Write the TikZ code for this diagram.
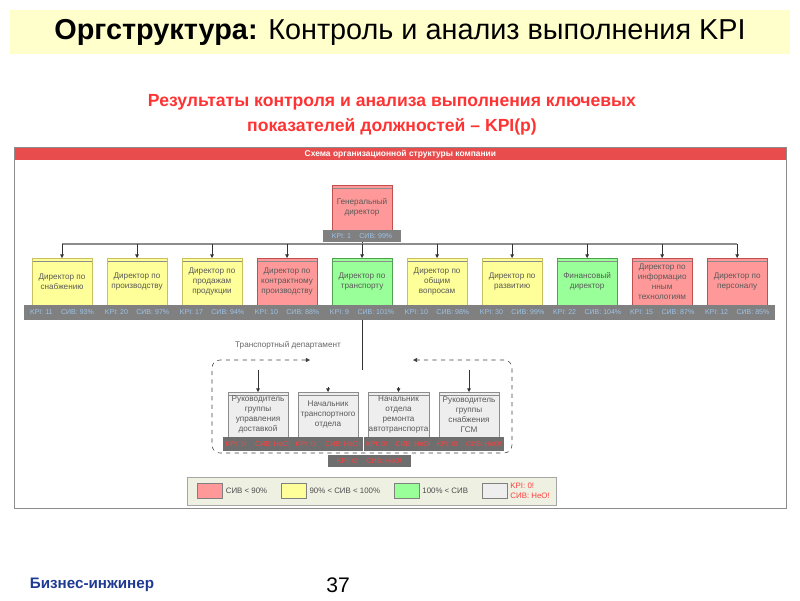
\documentclass[tikz,border=0pt]{standalone}
\usepackage{fontspec}
\setmainfont{Liberation Sans}
\usepackage{xcolor}
\usetikzlibrary{positioning,calc,arrows.meta}

\definecolor{titleband}{HTML}{FFFFCC}
\definecolor{subred}{HTML}{FF3333}
\definecolor{headred}{HTML}{E84C4C}
\definecolor{lowfill}{HTML}{FF9999}
\definecolor{lowdraw}{HTML}{C05050}
\definecolor{midfill}{HTML}{FFFF99}
\definecolor{middraw}{HTML}{C8C060}
\definecolor{highfill}{HTML}{99FF99}
\definecolor{highdraw}{HTML}{50A050}
\definecolor{nofill}{HTML}{EEEEEE}
\definecolor{kpigray}{HTML}{808080}
\definecolor{kpidark}{HTML}{6E6E6E}
\definecolor{kpiblue}{HTML}{9DC3E6}
\definecolor{kpired}{HTML}{FF4040}
\definecolor{legendfill}{HTML}{EEF0E2}
\definecolor{footblue}{HTML}{1F3A93}

\begin{document}
\begin{tikzpicture}[
    x=0.025cm, y=-0.025cm,
    node distance=0.375cm,
    dirbox/.style={rectangle, draw, minimum width=1.5cm, minimum height=1.175cm, align=center,
        font=\fontsize{5.8}{7}\selectfont, text=black!65, inner sep=0.5pt, outer sep=0pt,
        path picture={\draw[black!45] ([yshift=-0.08cm]path picture bounding box.north west) -- ([yshift=-0.08cm]path picture bounding box.north east);}},
    low/.style={dirbox, fill=lowfill, draw=lowdraw},
    mid/.style={dirbox, fill=midfill, draw=middraw},
    high/.style={dirbox, fill=highfill, draw=highdraw},
    subbox/.style={dirbox, fill=nofill, draw=black!45, minimum height=1.125cm},
    kpibar/.style={rectangle, fill=kpigray, minimum width=1.875cm, minimum height=0.375cm, inner sep=0pt, outer sep=0pt,
        font=\fontsize{5}{6}\selectfont, text=kpiblue},
    nokpi/.style={kpibar, fill=kpidark, text=kpired, minimum width=1.75cm, minimum height=0.35cm},
    swatch/.style={rectangle, draw=black!50, minimum width=0.625cm, minimum height=0.375cm},
    legendtext/.style={font=\fontsize{5.6}{6.8}\selectfont, text=black!70, inner sep=1pt, align=left},
    arrow/.style={-{Triangle[length=2.5pt,width=2.5pt]}, black!80}
]
\useasboundingbox (0,0) rectangle (800,600);

% title and subtitle
\node[fill=titleband, minimum width=19.5cm, minimum height=1.075cm, font=\fontsize{20.5}{24}\selectfont] (title) at (400,32)
    {\textbf{Оргструктура:} Контроль и анализ выполнения KPI};
\node[align=center, text=subred, font=\bfseries\fontsize{12.5}{17.5}\selectfont] (subtitle) at (392,115)
    {Результаты контроля и анализа выполнения ключевых\\показателей должностей – KPI(p)};

% scheme frame
\node[anchor=north west, fill=headred, minimum width=19.3cm, minimum height=0.325cm, inner sep=0pt,
    text=white, font=\bfseries\fontsize{6}{7}\selectfont] (schemehead) at (14,147) {Схема организационной структуры компании};
\coordinate (framecorner) at (786,508);
\draw[black!45] (schemehead.north west) rectangle (framecorner);

% general director
\node[low, minimum height=1.125cm] (gendir) at (362,207.5) {Генеральный\\директор};
\node[kpibar, minimum width=1.95cm, minimum height=0.3cm, below=0cm of gendir] (kpi0) {KPI: 1\hspace{1.2em}СИВ: 99\%};

% directors
\node[mid] (dir1) at (62,281.5) {Директор по\\снабжению};
\node[mid, right=of dir1] (dir2) {Директор по\\производству};
\node[mid, right=of dir2] (dir3) {Директор по\\продажам\\продукции};
\node[low, right=of dir3] (dir4) {Директор по\\контрактному\\производству};
\node[high, right=of dir4] (dir5) {Директор по\\транспорту};
\node[mid, right=of dir5] (dir6) {Директор по\\общим\\вопросам};
\node[mid, right=of dir6] (dir7) {Директор по\\развитию};
\node[high, right=of dir7] (dir8) {Финансовый\\директор};
\node[low, right=of dir8] (dir9) {Директор по\\информацио\\нным\\технологиям};
\node[low, right=of dir9] (dir10) {Директор по\\персоналу};

\node[kpibar, below=0cm of dir1] (kpi1) {KPI: 11\hspace{1.2em}СИВ: 93\%};
\node[kpibar, below=0cm of dir2] (kpi2) {KPI: 20\hspace{1.2em}СИВ: 97\%};
\node[kpibar, below=0cm of dir3] (kpi3) {KPI: 17\hspace{1.2em}СИВ: 94\%};
\node[kpibar, below=0cm of dir4] (kpi4) {KPI: 10\hspace{1.2em}СИВ: 88\%};
\node[kpibar, below=0cm of dir5] (kpi5) {KPI: 9\hspace{1.2em}СИВ: 101\%};
\node[kpibar, below=0cm of dir6] (kpi6) {KPI: 10\hspace{1.2em}СИВ: 98\%};
\node[kpibar, below=0cm of dir7] (kpi7) {KPI: 30\hspace{1.2em}СИВ: 99\%};
\node[kpibar, below=0cm of dir8] (kpi8) {KPI: 22\hspace{1.2em}СИВ: 104\%};
\node[kpibar, below=0cm of dir9] (kpi9) {KPI: 15\hspace{1.2em}СИВ: 87\%};
\node[kpibar, below=0cm of dir10] (kpi10) {KPI: 12\hspace{1.2em}СИВ: 85\%};

% bus line
\coordinate (bus) at (362,244);
\draw[black!80] (kpi0.south) -- (kpi0.south |- bus);
\draw[black!45, line width=0.8pt] (bus -| dir1) -- (bus -| dir10);
\foreach \d in {dir1,dir2,dir3,dir4,dir5,dir6,dir7,dir8,dir9,dir10}
    \draw[arrow] (bus -| \d) -- (\d.north);

% transport department
\coordinate (dept) at ([yshift=-50*0.025cm]kpi5.south);
\draw[black!80] (kpi5.south) -- (dept);
\node[font=\fontsize{5.8}{7}\selectfont, text=black!60] (deptlabel) at (288,345) {Транспортный департамент};
\draw[dashed, black!75, rounded corners=0.2cm, {Triangle[length=3pt,width=3pt]}-{Triangle[length=3pt,width=3pt]}]
    (310,360) -- (212,360) -- (212,453) -- (512,453) -- (512,360) -- (413,360);

\node[subbox] (sub1) at (258,414.5) {Руководитель\\группы\\управления\\доставкой};
\node[subbox, right=0.25cm of sub1] (sub2) {Начальник\\транспортного\\отдела};
\node[subbox, right=0.25cm of sub2] (sub3) {Начальник\\отдела\\ремонта\\автотранспорта};
\node[subbox, right=0.25cm of sub3] (sub4) {Руководитель\\группы\\снабжения\\ГСМ};

\draw[arrow] (sub1 |- dept) -- (sub1.north);
\draw[arrow] ([yshift=0.12cm]sub2.north) -- (sub2.north);
\draw[arrow] ([yshift=0.12cm]sub3.north) -- (sub3.north);
\draw[arrow] (sub4 |- dept) -- (sub4.north);

\node[nokpi, below=0cm of sub1] (subkpi1) {KPI: 0!\hspace{1.2em}СИВ: НеО!};
\node[nokpi, below=0cm of sub2] (subkpi2) {KPI: 0!\hspace{1.2em}СИВ: НеО!};
\node[nokpi, below=0cm of sub3] (subkpi3) {KPI: 0!\hspace{1.2em}СИВ: НеО!};
\node[nokpi, below=0cm of sub4] (subkpi4) {KPI: 0!\hspace{1.2em}СИВ: НеО!};
\node[nokpi, anchor=north, minimum width=2.075cm, minimum height=0.3cm] (deptkpi)
    at ([xshift=0.15cm, yshift=-0.1cm]$(subkpi2.south)!0.5!(subkpi3.south)$) {KPI: 0!\hspace{1.2em}СИВ: НеО!};

% legend
\node[fill=legendfill, draw=black!35, minimum width=9.225cm, minimum height=0.7cm] (legend) at (372,491) {};
\node[swatch, fill=lowfill] (sw1) at (210,491) {};
\node[legendtext, right=1pt of sw1] (lab1) {СИВ < 90\%};
\node[swatch, fill=midfill, right=0.3cm of lab1] (sw2) {};
\node[legendtext, right=1pt of sw2] (lab2) {90\% < СИВ < 100\%};
\node[swatch, fill=highfill, right=0.3cm of lab2] (sw3) {};
\node[legendtext, right=1pt of sw3] (lab3) {100\% < СИВ};
\node[swatch, fill=nofill, right=0.3cm of lab3] (sw4) {};
\node[legendtext, text=kpired, right=1pt of sw4] (lab4) {KPI: 0!\\СИВ: НеО!};

% footer
\node[text=footblue, font=\bfseries\fontsize{10.8}{13}\selectfont] (company) at (92,585) {Бизнес-инжинер};
\node[font=\fontsize{15}{17}\selectfont] (pagenum) at (338,585) {37};

\end{tikzpicture}
\end{document}
